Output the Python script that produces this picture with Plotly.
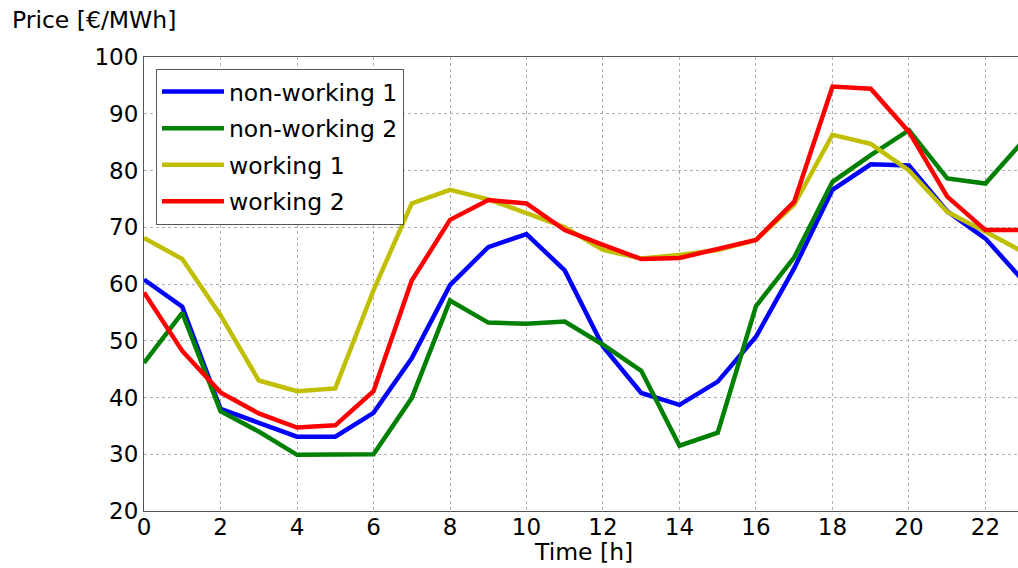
import plotly.graph_objects as go

# Hourly electricity prices [€/MWh] for four day profiles
hours = list(range(24))
non_working_1 = [60.8, 56.0, 38.0, 35.6, 33.1, 33.1, 37.3, 46.9, 59.8, 66.5, 68.8, 62.4,
                 49.0, 40.8, 38.7, 42.8, 50.7, 62.8, 76.6, 81.1, 80.9, 72.8, 68.0, 60.5]
non_working_2 = [46.1, 54.9, 37.6, 34.0, 29.9, 29.9, 30.0, 39.9, 57.1, 53.2, 53.0, 53.4,
                 49.3, 44.7, 31.5, 33.8, 56.1, 64.7, 78.0, 82.7, 87.1, 78.6, 77.7, 85.3]
working_1 = [68.1, 64.4, 54.5, 43.0, 41.1, 41.6, 58.9, 74.2, 76.6, 74.9, 72.5, 70.0,
             66.0, 64.5, 65.1, 66.0, 67.75, 74.0, 86.3, 84.7, 80.0, 72.7, 69.2, 65.6]
working_2 = [58.5, 48.2, 40.9, 37.2, 34.7, 35.1, 41.1, 60.6, 71.3, 74.8, 74.2, 69.5,
             66.9, 64.4, 64.6, 66.2, 67.75, 74.5, 94.8, 94.4, 86.8, 75.4, 69.5, 69.5]

series = [
    ("non-working 1", non_working_1, "#0000ff"),
    ("non-working 2", non_working_2, "#008000"),
    ("working 1", working_1, "#bfbf00"),
    ("working 2", working_2, "#ff0000"),
]

FONT = "DejaVu Sans"
TICK_SIZE = 23
LABEL_SIZE = 23.5

fig = go.Figure()
for name, values, color in series:
    fig.add_trace(go.Scatter(
        x=hours, y=values, name=name, mode="lines", legendgroup=name,
        line=dict(color=color, width=4.5),
    ))

fig.update_layout(
    width=1018, height=568,
    margin=dict(l=144, r=0, t=57, b=57),
    paper_bgcolor="white", plot_bgcolor="white",
    font=dict(family=FONT, size=LABEL_SIZE, color="black"),
    showlegend=True,
    legend=dict(
        x=0.0137, y=0.974, xanchor="left", yanchor="top",
        bgcolor="white", bordercolor="#555555", borderwidth=1,
        font=dict(family=FONT, size=LABEL_SIZE, color="black"),
        itemwidth=62, tracegroupgap=3, traceorder="grouped",
    ),
)

fig.update_xaxes(
    range=[0, 22.85], tickmode="array", tickvals=list(range(0, 24, 2)),
    showgrid=True, gridcolor="#b0b0b0", gridwidth=1, griddash="dot",
    showline=True, linecolor="#555555", linewidth=1, mirror=True,
    zeroline=False, ticks="", ticklabelstandoff=-5,
    tickfont=dict(family=FONT, size=TICK_SIZE, color="black"),
)
fig.update_yaxes(
    range=[20, 100], tickmode="array", tickvals=list(range(20, 101, 10)),
    showgrid=True, gridcolor="#b0b0b0", gridwidth=1, griddash="dot",
    showline=True, linecolor="#555555", linewidth=1, mirror=True,
    zeroline=False, ticks="", tickfont=dict(family=FONT, size=TICK_SIZE, color="black"),
)

# Axis titles
fig.add_annotation(
    text="Time [h]", xref="x", yref="paper", x=11.5, y=-0.09,
    xanchor="center", yanchor="middle", showarrow=False,
    font=dict(family=FONT, size=LABEL_SIZE, color="black"),
)
fig.add_annotation(
    text="Price [€/MWh]", xref="paper", yref="paper", x=-0.153, y=1.0815,
    xanchor="left", yanchor="middle", showarrow=False,
    font=dict(family=FONT, size=LABEL_SIZE, color="black"),
)

fig.write_html("out.html")
